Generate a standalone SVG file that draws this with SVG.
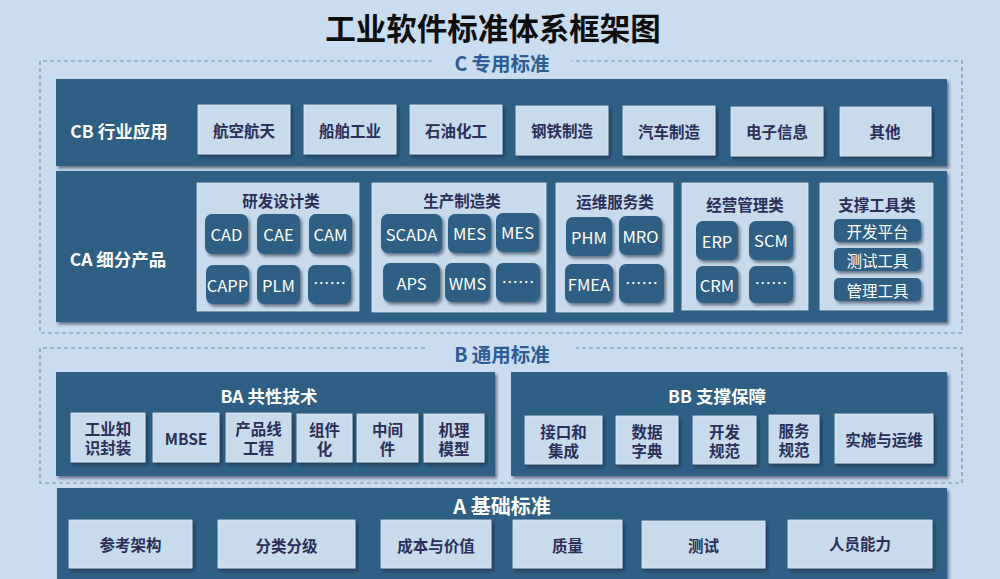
<svg xmlns="http://www.w3.org/2000/svg" width="1000" height="579" viewBox="0 0 1000 579">
<defs>
<filter id="sh" x="-10%" y="-10%" width="130%" height="140%">
<feDropShadow dx="2" dy="2.5" stdDeviation="1.5" flood-color="#142338" flood-opacity="0.55"/>
</filter>
<style>
text{font-family:"Noto Sans CJK SC","Open Sans",sans-serif;text-anchor:middle;dominant-baseline:central}
.panel{fill:#2f5e84;filter:url(#sh)}
.lbox{fill:#c8dbec;stroke:#dde9f5;stroke-width:0.8;filter:url(#sh)}
.sub{fill:#c8dbec;stroke:#dbe7f3;stroke-width:0.8}
.btn{fill:#2f5e84;filter:url(#sh)}
.dash{fill:none;stroke:#7390b3;stroke-width:1.2;stroke-dasharray:4 3}
.title{font-size:30.5px;font-weight:bold;fill:#0d0d0d}
.sec{font-size:19.5px;font-weight:bold;fill:#2e5c96}
.ptitle{font-size:17.5px;font-weight:bold;fill:#ffffff}
.ltxt{font-size:15.5px;font-weight:bold;fill:#2b2f5a}
.btxt{font-size:16.5px;fill:#ffffff}
.ttxt{font-size:15.5px;fill:#ffffff}
.stitle{font-size:15.5px;font-weight:bold;fill:#2b2f5a}
</style>
</defs>
<rect x="0" y="0" width="1000" height="579" fill="#cadcef"/>
<text class="title" x="493" y="27">工业软件标准体系框架图</text>

<g id="connectors"></g>

<g id="C">
<path class="dash" d="M432,61 H40 V333 H962 V61 H572"/>
<text class="sec" x="502" y="62">C 专用标准</text>
</g>

<g id="CB">
<rect class="panel" x="56" y="79" width="891" height="87"/>
<text class="ptitle" x="119" y="130">CB 行业应用</text>
<g id="cb1"><rect class="lbox" x="198" y="105" width="92" height="49"/><text class="ltxt" x="244" y="130">航空航天</text></g>
<g id="cb2"><rect class="lbox" x="304" y="105" width="92" height="49"/><text class="ltxt" x="350" y="130">船舶工业</text></g>
<g id="cb3"><rect class="lbox" x="410" y="105" width="92" height="49"/><text class="ltxt" x="456" y="130">石油化工</text></g>
<g id="cb4"><rect class="lbox" x="516" y="106" width="92" height="49"/><text class="ltxt" x="562" y="130">钢铁制造</text></g>
<g id="cb5"><rect class="lbox" x="623" y="106" width="92" height="49"/><text class="ltxt" x="669" y="131">汽车制造</text></g>
<g id="cb6"><rect class="lbox" x="731" y="107" width="92" height="49"/><text class="ltxt" x="777" y="131">电子信息</text></g>
<g id="cb7"><rect class="lbox" x="840" y="107" width="91" height="49"/><text class="ltxt" x="885" y="131">其他</text></g>
</g>

<g id="CA">
<rect class="panel" x="56" y="171" width="891" height="151"/>
<text class="ptitle" x="118" y="258">CA 细分产品</text>

<g id="ca-rd">
<rect class="sub" x="197" y="183" width="162" height="128"/>
<text class="stitle" x="281" y="200">研发设计类</text>
<rect class="btn" x="205" y="214" width="43" height="40" rx="7"/><text class="btxt" x="226.5" y="234">CAD</text>
<rect class="btn" x="257" y="214" width="43" height="40" rx="7"/><text class="btxt" x="278.5" y="234">CAE</text>
<rect class="btn" x="309" y="214" width="43" height="40" rx="7"/><text class="btxt" x="330.5" y="234">CAM</text>
<rect class="btn" x="206" y="265" width="43" height="39" rx="7"/><text class="btxt" x="227.5" y="284.5">CAPP</text>
<rect class="btn" x="257" y="265" width="43" height="39" rx="7"/><text class="btxt" x="278.5" y="284.5">PLM</text>
<rect class="btn" x="308" y="265" width="43" height="39" rx="7"/><text class="btxt" x="329.5" y="283">……</text>
</g>

<g id="ca-pm">
<rect class="sub" x="372" y="183" width="174" height="129"/>
<text class="stitle" x="462" y="200">生产制造类</text>
<rect class="btn" x="381" y="214" width="61" height="39" rx="7"/><text class="btxt" x="411.5" y="233.5">SCADA</text>
<rect class="btn" x="448" y="214" width="43" height="39" rx="7"/><text class="btxt" x="469.5" y="233">MES</text>
<rect class="btn" x="496" y="213" width="43" height="39" rx="7"/><text class="btxt" x="517.5" y="232">MES</text>
<rect class="btn" x="383" y="263" width="57" height="39" rx="7"/><text class="btxt" x="411.5" y="283">APS</text>
<rect class="btn" x="445" y="263" width="45" height="39" rx="7"/><text class="btxt" x="467.5" y="283">WMS</text>
<rect class="btn" x="496" y="263" width="44" height="39" rx="7"/><text class="btxt" x="518" y="281.5">……</text>
</g>

<g id="ca-om">
<rect class="sub" x="556" y="183" width="117" height="129"/>
<text class="stitle" x="615" y="201">运维服务类</text>
<rect class="btn" x="566" y="217" width="46" height="39" rx="7"/><text class="btxt" x="589" y="236.5">PHM</text>
<rect class="btn" x="619" y="216" width="43" height="39" rx="7"/><text class="btxt" x="640.5" y="235.5">MRO</text>
<rect class="btn" x="565" y="264" width="48" height="39" rx="7"/><text class="btxt" x="589" y="284">FMEA</text>
<rect class="btn" x="619" y="264" width="45" height="39" rx="7"/><text class="btxt" x="641.5" y="282.5">……</text>
</g>

<g id="ca-bm">
<rect class="sub" x="682" y="183" width="126" height="127"/>
<text class="stitle" x="745" y="204">经营管理类</text>
<rect class="btn" x="696" y="221" width="42" height="39" rx="7"/><text class="btxt" x="717" y="240.5">ERP</text>
<rect class="btn" x="749" y="221" width="44" height="39" rx="7"/><text class="btxt" x="771" y="240">SCM</text>
<rect class="btn" x="696" y="266" width="42" height="37" rx="7"/><text class="btxt" x="717" y="284.5">CRM</text>
<rect class="btn" x="749" y="266" width="44" height="37" rx="7"/><text class="btxt" x="771" y="283">……</text>
</g>

<g id="ca-st">
<rect class="sub" x="820" y="183" width="113" height="127"/>
<text class="stitle" x="877" y="204">支撑工具类</text>
<rect class="btn" x="834" y="219" width="87" height="23" rx="5"/><text class="ttxt" x="877.5" y="230.5">开发平台</text>
<rect class="btn" x="834" y="248" width="87" height="23" rx="5"/><text class="ttxt" x="877.5" y="259.5">测试工具</text>
<rect class="btn" x="834" y="278" width="87" height="23" rx="5"/><text class="ttxt" x="877.5" y="289.5">管理工具</text>
</g>
</g>

<g id="B">
<path class="dash" d="M425,348 H40 V483 H962 V348 H576"/>
<text class="sec" x="502" y="353">B 通用标准</text>
</g>

<g id="BA">
<rect class="panel" x="56" y="372" width="439" height="104"/>
<text class="ptitle" x="269" y="395">BA 共性技术</text>
<g id="ba1"><rect class="lbox" x="71" y="413" width="74" height="49"/><text class="ltxt"><tspan x="108" y="428">工业知</tspan><tspan x="108" y="447">识封装</tspan></text></g>
<g id="ba2"><rect class="lbox" x="153" y="413" width="66" height="49"/><text class="ltxt" x="186" y="437.5">MBSE</text></g>
<g id="ba3"><rect class="lbox" x="226" y="413" width="65" height="49"/><text class="ltxt"><tspan x="258.5" y="428">产品线</tspan><tspan x="258.5" y="447">工程</tspan></text></g>
<g id="ba4"><rect class="lbox" x="297" y="414" width="55" height="48"/><text class="ltxt"><tspan x="324.5" y="429">组件</tspan><tspan x="324.5" y="448">化</tspan></text></g>
<g id="ba5"><rect class="lbox" x="357" y="414" width="61" height="48"/><text class="ltxt"><tspan x="387.5" y="429">中间</tspan><tspan x="387.5" y="448">件</tspan></text></g>
<g id="ba6"><rect class="lbox" x="424" y="414" width="60" height="48"/><text class="ltxt"><tspan x="454" y="429">机理</tspan><tspan x="454" y="448">模型</tspan></text></g>
</g>

<g id="BB">
<rect class="panel" x="511" y="372" width="436" height="104"/>
<text class="ptitle" x="717" y="395">BB 支撑保障</text>
<g id="bb1"><rect class="lbox" x="525" y="416" width="77" height="48"/><text class="ltxt"><tspan x="563.5" y="431">接口和</tspan><tspan x="563.5" y="450">集成</tspan></text></g>
<g id="bb2"><rect class="lbox" x="616" y="416" width="62" height="48"/><text class="ltxt"><tspan x="647" y="431">数据</tspan><tspan x="647" y="450">字典</tspan></text></g>
<g id="bb3"><rect class="lbox" x="693" y="416" width="63" height="48"/><text class="ltxt"><tspan x="724.5" y="431">开发</tspan><tspan x="724.5" y="450">规范</tspan></text></g>
<g id="bb4"><rect class="lbox" x="769" y="415" width="50" height="48"/><text class="ltxt"><tspan x="794" y="430">服务</tspan><tspan x="794" y="449">规范</tspan></text></g>
<g id="bb5"><rect class="lbox" x="835" y="414" width="98" height="49"/><text class="ltxt" x="884" y="439">实施与运维</text></g>
</g>

<g id="A">
<rect class="panel" x="57" y="488" width="890" height="100"/>
<text class="ptitle" x="502" y="505" style="font-size:20px">A 基础标准</text>
<g id="a1"><rect class="lbox" x="69" y="520" width="123" height="48"/><text class="ltxt" x="130.5" y="544">参考架构</text></g>
<g id="a2"><rect class="lbox" x="218" y="520" width="137" height="48"/><text class="ltxt" x="286.5" y="545">分类分级</text></g>
<g id="a3"><rect class="lbox" x="381" y="520" width="110" height="48"/><text class="ltxt" x="436" y="545">成本与价值</text></g>
<g id="a4"><rect class="lbox" x="513" y="520" width="109" height="48"/><text class="ltxt" x="567.5" y="545">质量</text></g>
<g id="a5"><rect class="lbox" x="642" y="521" width="123" height="47"/><text class="ltxt" x="703.5" y="545">测试</text></g>
<g id="a6"><rect class="lbox" x="788" y="520" width="144" height="48"/><text class="ltxt" x="860" y="543">人员能力</text></g>
</g>
</svg>
